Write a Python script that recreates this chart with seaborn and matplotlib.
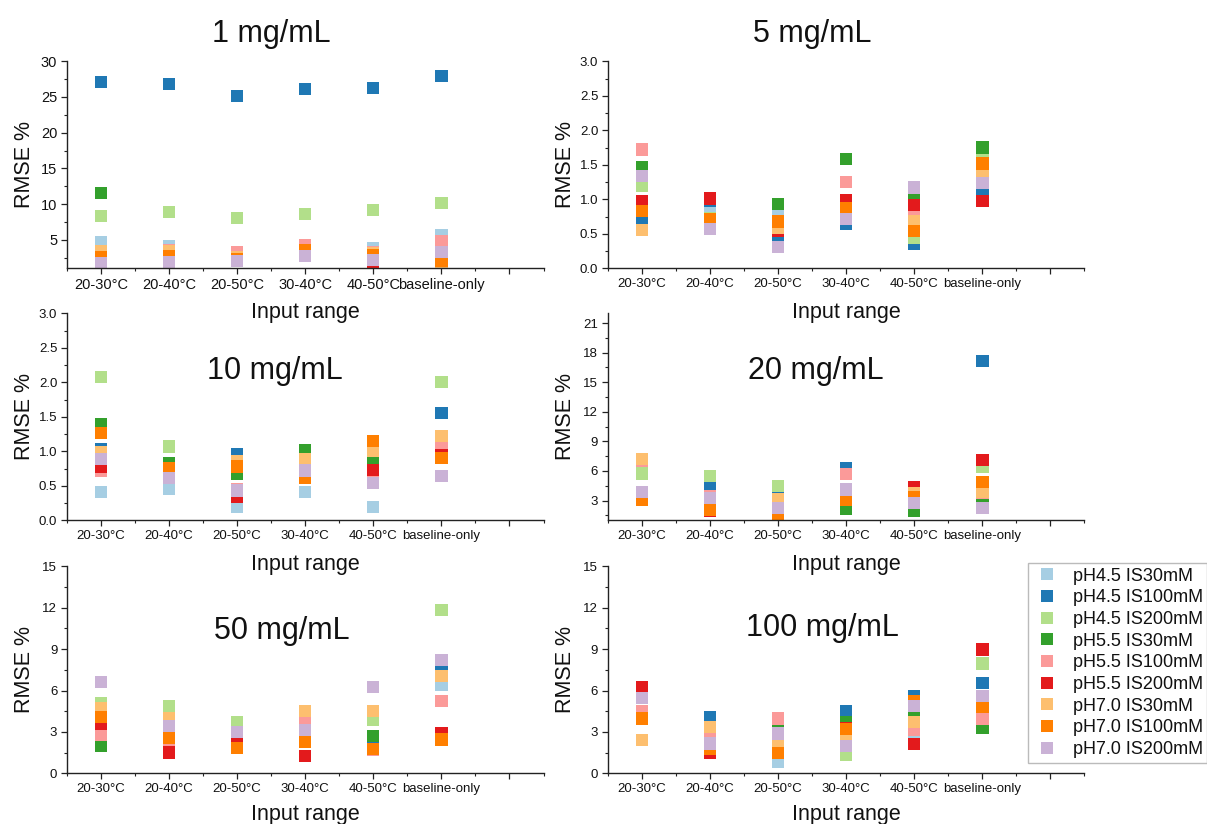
import matplotlib
matplotlib.use("Agg")
import matplotlib.pyplot as plt
import pandas as pd
import seaborn as sns
from matplotlib.lines import Line2D
from matplotlib.ticker import AutoMinorLocator, MultipleLocator, FormatStrFormatter

sns.set_style("ticks")
plt.rcParams["font.family"] = ["Liberation Sans", "DejaVu Sans"]

ranges = ["20-30°C", "20-40°C", "20-50°C", "30-40°C", "40-50°C", "baseline-only"]
conditions = ["pH4.5 IS30mM", "pH4.5 IS100mM", "pH4.5 IS200mM",
              "pH5.5 IS30mM", "pH5.5 IS100mM", "pH5.5 IS200mM",
              "pH7.0 IS30mM", "pH7.0 IS100mM", "pH7.0 IS200mM"]
colors = ["#a6cee3", "#1f78b4", "#b2df8a", "#33a02c", "#fb9a99",
          "#e31a1c", "#fdbf6f", "#ff7f00", "#cab2d6"]
concentrations = ["1 mg/mL", "5 mg/mL", "10 mg/mL", "20 mg/mL", "50 mg/mL", "100 mg/mL"]

# rows follow `conditions`, columns follow `ranges`
rmse_1 = [
    [4.6, 4.1, 2.6, 4.0, 3.8, 5.7],
    [27.1, 26.8, 25.1, 26.1, 26.3, 27.9],
    [8.3, 8.9, 8.0, 8.6, 9.2, 10.1],
    [11.6, 2.7, 2.2, 3.0, 2.3, 2.0],
    [3.0, 3.5, 3.2, 4.2, 3.2, 4.8],
    [2.3, 2.2, 2.0, 3.0, 0.9, 2.0],
    [3.4, 3.4, 2.5, 3.3, 3.1, 1.4],
    [2.6, 2.7, 2.3, 3.6, 2.9, 2.1],
    [1.7, 1.8, 2.0, 2.7, 2.2, 3.3],
]
rmse_5 = [
    [0.70, 0.89, 0.82, 0.70, 0.60, 1.11],
    [0.73, 0.98, 0.40, 0.64, 0.35, 1.135],
    [1.20, 0.72, 0.60, 0.95, 0.44, 1.65],
    [1.47, 0.60, 0.93, 1.58, 1.09, 1.75],
    [1.72, 1.00, 0.62, 1.256, 0.80, 1.43],
    [0.976, 1.01, 0.54, 0.99, 0.92, 0.976],
    [0.555, 0.58, 0.59, 0.75, 0.68, 1.33],
    [0.83, 0.71, 0.68, 0.87, 0.54, 1.52],
    [1.34, 0.57, 0.31, 0.715, 1.17, 1.24],
]
rmse_10 = [
    [0.41, 0.45, 0.19, 0.41, 0.19, 0.95],
    [1.03, 0.78, 0.96, 0.95, 1.10, 1.55],
    [2.08, 1.07, 0.75, 0.80, 0.95, 2.00],
    [1.39, 0.83, 0.67, 1.01, 0.89, 1.01],
    [0.72, 0.70, 0.45, 0.68, 0.66, 1.09],
    [0.78, 0.62, 0.345, 0.70, 0.73, 0.95],
    [0.985, 0.76, 0.85, 0.89, 1.00, 1.22],
    [1.26, 0.75, 0.78, 0.61, 1.15, 0.90],
    [0.89, 0.61, 0.43, 0.72, 0.54, 0.64],
]
rmse_20 = [
    [6.0, 4.0, 2.8, 4.0, 3.0, 3.0],
    [6.5, 4.63, 3.88, 6.26, 3.6, 17.13],
    [5.75, 5.5, 4.46, 4.2, 3.5, 6.4],
    [3.3, 2.2, 1.6, 2.18, 1.95, 3.1],
    [7.0, 3.4, 3.0, 5.68, 3.8, 3.8],
    [3.2, 2.0, 1.8, 3.2, 4.36, 7.08],
    [7.25, 3.0, 3.1, 4.2, 3.78, 3.85],
    [3.1, 2.08, 1.57, 3.1, 3.37, 4.87],
    [3.85, 3.27, 2.25, 4.12, 2.76, 2.22],
]
rmse_50 = [
    [3.5, 3.0, 2.5, 3.0, 2.17, 6.39],
    [3.33, 4.34, 3.0, 3.98, 1.8, 7.64],
    [5.06, 4.87, 3.74, 3.5, 3.9, 11.86],
    [2.0, 2.0, 2.0, 2.65, 2.72, 2.5],
    [2.77, 2.17, 3.0, 3.62, 1.7, 5.26],
    [3.62, 1.5, 2.36, 1.25, 1.75, 2.94],
    [4.75, 3.98, 3.0, 4.5, 4.5, 7.07],
    [4.1, 2.58, 1.81, 2.29, 1.74, 2.46],
    [6.63, 3.42, 3.01, 3.13, 6.27, 8.2],
]
rmse_100 = [
    [4.3, 3.0, 0.8, 2.5, 2.7, 4.5],
    [4.0, 4.1, 1.5, 4.5, 5.59, 6.56],
    [4.2, 2.5, 3.4, 1.37, 4.3, 7.96],
    [4.1, 2.77, 3.45, 3.74, 4.27, 3.3],
    [4.5, 3.0, 3.98, 3.3, 3.13, 3.98],
    [6.27, 1.5, 1.5, 3.26, 2.12, 8.97],
    [2.41, 3.38, 2.1, 2.58, 3.74, 4.8],
    [3.98, 1.8, 1.45, 3.2, 5.26, 4.82],
    [5.47, 2.17, 2.89, 2.0, 4.9, 5.59],
]
panels = [rmse_1, rmse_5, rmse_10, rmse_20, rmse_50, rmse_100]

# axes layout in figure fractions and per-panel settings
lefts = [0.0555, 0.5037]
bottoms = [0.6744, 0.3686, 0.0615]
width, height = 0.3948, 0.2512
ylims = [(1, 30), (0, 3), (0, 3), (1, 22), (0, 15), (0, 15)]
ysteps = [5, 0.5, 0.5, 3, 3, 3]
title_pos = [(2.5, 1.13), (2.5, 1.13), (2.55, 0.72), (2.55, 0.72), (2.65, 0.69), (2.65, 0.70)]
xlabel_y = [-0.165, -0.165, -0.148]

fig = plt.figure(figsize=(12.07, 8.24), dpi=100)

for i, (name, vals) in enumerate(zip(concentrations, panels)):
    ax = fig.add_axes([lefts[i % 2], bottoms[i // 2], width, height])
    ax.set_facecolor("none")
    df = pd.DataFrame(
        [(r, c, v) for c, row in zip(conditions, vals) for r, v in zip(ranges, row)],
        columns=["range", "condition", "rmse"],
    )
    sns.scatterplot(data=df, x="range", y="rmse", hue="condition",
                    hue_order=conditions, palette=colors, marker="s", s=78,
                    linewidth=0, alpha=1, legend=False, ax=ax)
    ax.set_xlim(-0.5, 6.5)
    ax.set_ylim(*ylims[i])
    ax.set_xticks(range(7))
    ax.set_xticklabels(ranges + [""])
    ax.xaxis.set_minor_locator(MultipleLocator(0.5))
    ax.yaxis.set_major_locator(MultipleLocator(ysteps[i]))
    ax.yaxis.set_minor_locator(AutoMinorLocator(2))
    if i == 0:
        ax.set_yticks([5, 10, 15, 20, 25, 30])
    if i >= 3:
        ax.yaxis.set_major_formatter(FormatStrFormatter("%d"))
    tick_fs = 10.5 if i == 0 else 9.5
    ax.tick_params(axis="both", which="major", length=4, width=0.9,
                   labelsize=tick_fs, pad=3, colors="#222222", labelcolor="#111111")
    ax.tick_params(axis="both", which="minor", length=2.5, width=0.8, colors="#222222")
    sns.despine(ax=ax)
    for s in ["left", "bottom"]:
        ax.spines[s].set_linewidth(1.0)
        ax.spines[s].set_color("#222222")
    ax.set_xlabel("Input range", fontsize=15.5, color="#111111")
    ax.set_ylabel("RMSE %", fontsize=15.5, color="#111111")
    ax.xaxis.set_label_coords(0.5, xlabel_y[i // 2])
    ax.yaxis.set_label_coords(-0.068, 0.5)
    tx, ty = title_pos[i]
    ax.text(tx, ty, name, transform=ax.get_xaxis_transform(), ha="center",
            va="center", fontsize=22, color="#111111", clip_on=False)

handles = [Line2D([], [], marker="s", linestyle="", markersize=8.5,
                  markerfacecolor=c, markeredgewidth=0) for c in colors]
leg = fig.legend(handles, conditions, loc="upper left",
                 bbox_to_anchor=(1028 / 1207, 1 - 563 / 824), fontsize=13,
                 frameon=True, fancybox=False, borderaxespad=0, borderpad=0.25,
                 handlelength=1.55, handletextpad=0.67, labelspacing=0.26)
leg.get_frame().set_edgecolor("#aaaaaa")
leg.get_frame().set_linewidth(1.0)
for t in leg.get_texts():
    t.set_color("#111111")

fig.savefig("out.png", dpi=100)
